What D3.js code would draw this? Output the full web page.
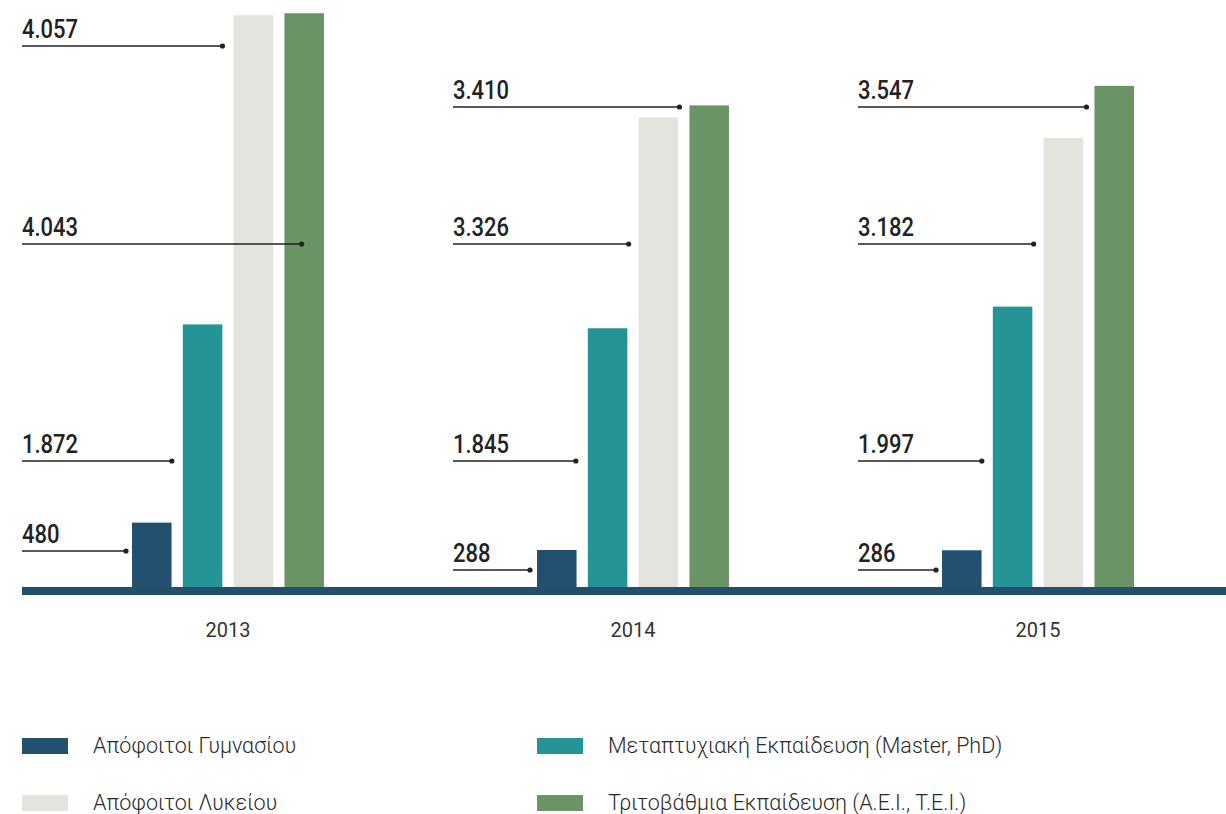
<!DOCTYPE html>
<html>
<head>
<meta charset="utf-8">
<script src="https://cdn.jsdelivr.net/npm/d3@7"></script>
<style>
  html, body { margin: 0; padding: 0; background: #ffffff; }
  svg { display: block; }
</style>
</head>
<body>
<svg id="chart" width="1226" height="814"></svg>
<script>
// ---- data ----
const years = ["2013", "2014", "2015"];
const seriesNames = [
  "Απόφοιτοι Γυμνασίου",
  "Μεταπτυχιακή Εκπαίδευση (Master, PhD)",
  "Απόφοιτοι Λυκείου",
  "Τριτοβάθμια Εκπαίδευση (Α.Ε.Ι., Τ.Ε.Ι.)"
];
const gymnasium = [480, 288, 286];
const master = [1872, 1845, 1997];
const lykeio = [4043, 3326, 3182];
const tertiary = [4057, 3410, 3547];
const seriesValues = [gymnasium, master, lykeio, tertiary];
const colors = ["#23506e", "#259497", "#e4e3de", "#6a9466"];

// ---- layout ----
const W = 1226, H = 814;
const svg = d3.select("#chart");
const fontFamily = "Roboto, 'Noto Sans', sans-serif";

const x0 = d3.scaleBand().domain(years).range([22, 1244]).paddingInner(0.526).paddingOuter(0.2716);
const x1 = d3.scaleBand().domain(seriesNames).range([0, x0.bandwidth()]).paddingInner(0.222);
const y = d3.scaleLinear().domain([0, 4150]).range([591, 0]);

const fmt = v => d3.format(",")(v).replace(/,/g, ".");

// bars
const rows = [];
years.forEach((yr, i) => {
  seriesNames.forEach((s, j) => rows.push({ year: yr, series: s, si: j, value: seriesValues[j][i], yi: i }));
});

svg.append("g").selectAll("rect").data(rows).join("rect")
  .attr("x", d => x0(d.year) + x1(d.series))
  .attr("y", d => y(d.value))
  .attr("width", x1.bandwidth())
  .attr("height", d => y(0) - y(d.value))
  .attr("fill", d => colors[d.si]);

// baseline axis bar
svg.append("rect")
  .attr("x", 22).attr("y", y(0) - 4)
  .attr("width", W - 22).attr("height", 8)
  .attr("fill", "#234f6d");

// year labels
svg.append("g").selectAll("text").data(years).join("text")
  .attr("x", d => x0(d) + x0.bandwidth() / 2)
  .attr("y", 637)
  .attr("text-anchor", "middle")
  .attr("font-family", fontFamily)
  .attr("font-size", 20)
  .attr("fill", "#333")
  .text(d => d);

// annotations: label row order (tertiary, lykeio, master, gymnasium)
const labelOrder = [3, 2, 1, 0];
const labelX = [22, 453, 858];
const lineY = [[46, 244, 461, 551], [107, 244, 461, 570], [107, 244, 461, 570]];
const dotDx = [[-62, 68, -11, -6], [-10, -10, -12, -7], [-8, -10, -11, -6]];

const ann = [];
years.forEach((yr, i) => {
  labelOrder.forEach((sj, r) => {
    ann.push({
      x: labelX[i],
      ly: lineY[i][r],
      dx: x0(yr) + x1(seriesNames[sj]) + dotDx[i][r],
      text: fmt(seriesValues[sj][i])
    });
  });
});

const ag = svg.append("g");
ag.selectAll("line").data(ann).join("line")
  .attr("x1", d => d.x).attr("x2", d => d.dx)
  .attr("y1", d => d.ly).attr("y2", d => d.ly)
  .attr("stroke", "#222").attr("stroke-width", 1.5);
ag.selectAll("circle").data(ann).join("circle")
  .attr("cx", d => d.dx).attr("cy", d => d.ly).attr("r", 2.6)
  .attr("fill", "#222");
ag.selectAll("text").data(ann).join("text")
  .attr("transform", d => `translate(${d.x},${d.ly - 8}) scale(0.88,1)`)
  .attr("font-family", fontFamily)
  .attr("font-size", 25)
  .attr("font-weight", 500)
  .attr("fill", "#222")
  .text(d => d.text);

// legend
const legendPos = [
  { si: 0, x: 22, y: 738 },
  { si: 2, x: 22, y: 795 },
  { si: 1, x: 537, y: 738 },
  { si: 3, x: 537, y: 795 }
];
const lg = svg.append("g").selectAll("g").data(legendPos).join("g")
  .attr("transform", d => `translate(${d.x},${d.y})`);
lg.append("rect").attr("width", 46).attr("height", 16).attr("fill", d => colors[d.si]);
lg.append("text")
  .attr("x", 71).attr("y", 15)
  .attr("font-family", fontFamily)
  .attr("font-size", 21.5)
  .attr("font-weight", 300)
  .attr("fill", "#2a2a2a")
  .text(d => seriesNames[d.si]);
</script>
</body>
</html>
